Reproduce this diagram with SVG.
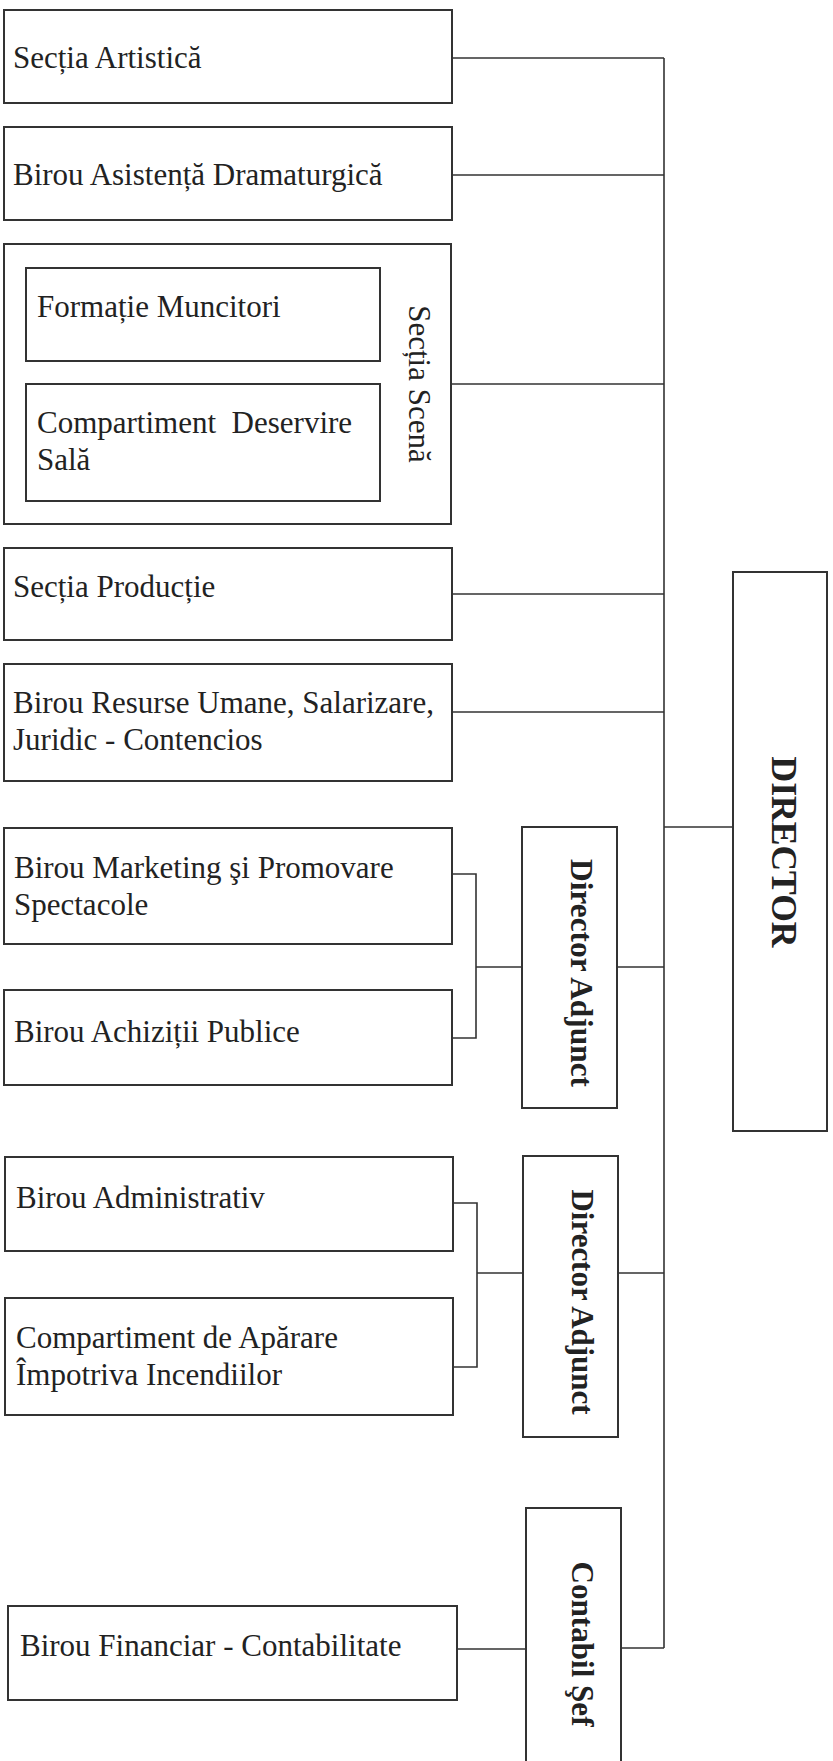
<svg xmlns="http://www.w3.org/2000/svg" width="833" height="1761" viewBox="0 0 833 1761">
<style>
.box{fill:#fff;stroke:#333;stroke-width:2}
.ln{fill:none;stroke:#333;stroke-width:1.6}
.t{font-family:'Liberation Serif','Times New Roman',serif;font-size:31px;fill:#222}
.b{font-family:'Liberation Serif','Times New Roman',serif;font-weight:bold;font-size:32px;fill:#222;text-anchor:middle}
</style>
<rect width="833" height="1761" fill="#fff"/>
<g id="connectors">
<path class="ln" d="M664,58V1648"/>
<path class="ln" d="M452,58H664M452,175H664M452,384H664M452,594H664M452,712H664M664,827H733"/>
<path class="ln" d="M617,967H664M452,874H476V1038H452M476,967H522"/>
<path class="ln" d="M618,1273H664M453,1203H477V1367H453M477,1273H523"/>
<path class="ln" d="M621,1648H664M457,1649H526"/>
</g>
<g id="sectia-artistica"><rect class="box" x="4" y="10" width="448" height="93"/><text class="t" x="13" y="68">Secția Artistică</text></g>
<g id="birou-asistenta"><rect class="box" x="4" y="127" width="448" height="93"/><text class="t" x="13" y="185">Birou Asistență Dramaturgică</text></g>
<g id="sectia-scena"><rect class="box" x="4" y="244" width="447" height="280"/><text class="t" transform="translate(409,384) rotate(90)" text-anchor="middle">Secția Scenă</text></g>
<g id="formatie-muncitori"><rect class="box" x="26" y="268" width="354" height="93"/><text class="t" x="37" y="317">Formație Muncitori</text></g>
<g id="compartiment-deservire"><rect class="box" x="26" y="384" width="354" height="117"/><text class="t" x="37" y="433" xml:space="preserve">Compartiment  Deservire</text><text class="t" x="37" y="470">Sală</text></g>
<g id="sectia-productie"><rect class="box" x="4" y="548" width="448" height="92"/><text class="t" x="13" y="597">Secția Producție</text></g>
<g id="birou-resurse"><rect class="box" x="4" y="664" width="448" height="117"/><text class="t" x="13" y="713">Birou Resurse Umane, Salarizare,</text><text class="t" x="13" y="750">Juridic - Contencios</text></g>
<g id="birou-marketing"><rect class="box" x="4" y="828" width="448" height="116"/><text class="t" x="14" y="878">Birou Marketing şi Promovare</text><text class="t" x="14" y="915">Spectacole</text></g>
<g id="birou-achizitii"><rect class="box" x="4" y="990" width="448" height="95"/><text class="t" x="14" y="1042">Birou Achiziții Publice</text></g>
<g id="birou-administrativ"><rect class="box" x="5" y="1157" width="448" height="94"/><text class="t" x="16" y="1208">Birou Administrativ</text></g>
<g id="compartiment-aparare"><rect class="box" x="5" y="1298" width="448" height="117"/><text class="t" x="16" y="1348">Compartiment de Apărare</text><text class="t" x="16" y="1385">Împotriva Incendiilor</text></g>
<g id="birou-financiar"><rect class="box" x="8" y="1606" width="449" height="94"/><text class="t" x="20" y="1656">Birou Financiar - Contabilitate</text></g>
<g id="director"><rect class="box" x="733" y="572" width="94" height="559"/><text class="b" style="font-size:35px" transform="translate(772,852) rotate(90)" textLength="191" lengthAdjust="spacingAndGlyphs">DIRECTOR</text></g>
<g id="director-adjunct-1"><rect class="box" x="522" y="827" width="95" height="281"/><text class="b" transform="translate(571,973) rotate(90)" textLength="228" lengthAdjust="spacingAndGlyphs">Director Adjunct</text></g>
<g id="director-adjunct-2"><rect class="box" x="523" y="1156" width="95" height="281"/><text class="b" transform="translate(572,1302) rotate(90)" textLength="225" lengthAdjust="spacingAndGlyphs">Director Adjunct</text></g>
<g id="contabil-sef"><rect class="box" x="526" y="1508" width="95" height="260"/><text class="b" transform="translate(572,1644) rotate(90)" textLength="165" lengthAdjust="spacingAndGlyphs">Contabil Şef</text></g>
</svg>
